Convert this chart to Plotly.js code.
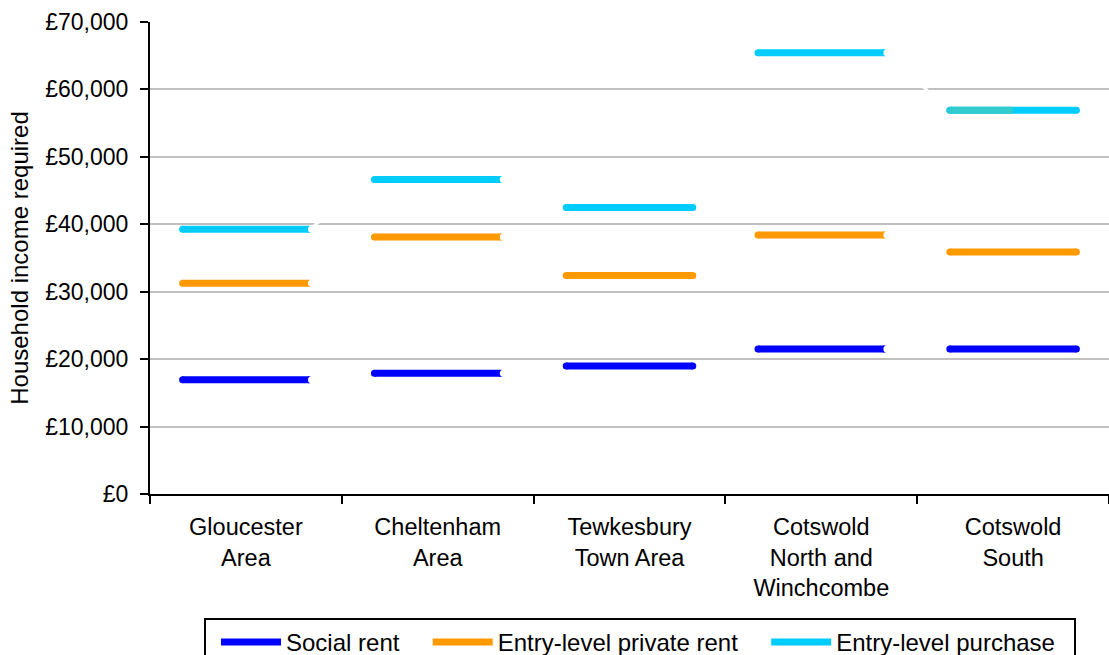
<!DOCTYPE html>
<html>
<head>
<meta charset="utf-8">
<script src="https://cdn.plot.ly/plotly-3.0.1.min.js"></script>
<style>
html,body{margin:0;padding:0;background:#fff;}
#chart{width:1109px;height:655px;}
</style>
</head>
<body>
<div id="chart"></div>
<script>
// ---- data ----
const categories = ['Gloucester<br>Area', 'Cheltenham<br>Area', 'Tewkesbury<br>Town Area', 'Cotswold<br>North and<br>Winchcombe', 'Cotswold<br>South'];
const seriesNames = ['Social rent', 'Entry-level private rent', 'Entry-level purchase'];
const socialRent = [16950, 17900, 19000, 21500, 21500];
const privateRent = [31250, 38100, 32400, 38400, 35900];
const purchase = [39250, 46650, 42500, 65450, 56900];
const purchaseLeftHalfColours = ['#00CCFF', '#00CCFF', '#00CCFF', '#00CCFF', '#33CCCC'];
const whiteEndCaps = [true, true, false, true, false];
const yTickValues = [0, 10000, 20000, 30000, 40000, 50000, 60000, 70000];
const yTickLabels = ['£0', '£10,000', '£20,000', '£30,000', '£40,000', '£50,000', '£60,000', '£70,000'];

// ---- styles ----
const colours = ['#0000FF', '#FF9900', '#00CCFF'];
const H = 0.33;      // half length of each level segment (category units)
const LW = 7;
const FONT = '"Liberation Sans", Arial, sans-serif';
const NB = '\u00A0';

const allSeries = [socialRent, privateRent, purchase];
const traces = [];

// white connectors after segments with a white end cap (drawn under)
allSeries.forEach((vals) => {
  const x = [], y = [];
  for (let i = 0; i < vals.length - 1; i++) {
    if (!whiteEndCaps[i]) continue;
    x.push(i + H, i + 1 - H, null);
    y.push(vals[i], vals[i + 1], null);
  }
  traces.push({type: 'scatter', mode: 'lines', x, y, showlegend: false, hoverinfo: 'skip',
    line: {color: '#FFFFFF', width: 3}});
});

// level segments
const legendPad = [NB + NB, NB + NB, NB + NB];
allSeries.forEach((vals, s) => {
  const x = [], y = [];
  vals.forEach((v, i) => { x.push(i - H, i, i + H, null); y.push(v, v, v, null); });
  traces.push({type: 'scatter', mode: 'lines', x, y, name: seriesNames[s] + legendPad[s],
    line: {color: colours[s], width: LW}});
  // round caps
  const cx = [], cy = [];
  vals.forEach((v, i) => { cx.push(i - H, i + H); cy.push(v, v); });
  traces.push({type: 'scatter', mode: 'markers', x: cx, y: cy, showlegend: false, hoverinfo: 'skip',
    marker: {color: colours[s], size: LW, line: {width: 0}}});
});

// differently coloured left halves of purchase segments
purchase.forEach((v, i) => {
  if (purchaseLeftHalfColours[i] !== colours[2]) {
    traces.push({type: 'scatter', mode: 'lines+markers', x: [i - H, i], y: [v, v], showlegend: false, hoverinfo: 'skip',
      line: {color: purchaseLeftHalfColours[i], width: LW},
      marker: {color: purchaseLeftHalfColours[i], size: [LW, 0], line: {width: 0}}});
  }
});

// white end caps
const wx = [], wy = [];
allSeries.forEach((vals) => vals.forEach((v, i) => { if (whiteEndCaps[i]) { wx.push(i + H + 0.012); wy.push(v); } }));
traces.push({type: 'scatter', mode: 'markers', x: wx, y: wy, showlegend: false, hoverinfo: 'skip',
  marker: {color: '#FFFFFF', size: 7, line: {width: 0}}});

const layout = {
  width: 1109, height: 655,
  margin: {l: 150, r: 0, t: 22, b: 161},
  paper_bgcolor: '#FFFFFF', plot_bgcolor: '#FFFFFF',
  font: {family: FONT, color: '#000000', size: 23},
  showlegend: true,
  xaxis: {
    type: 'linear', range: [-0.5, 4.5], fixedrange: true,
    tickmode: 'array', tickvals: categories.map((c, i) => i), ticktext: categories,
    ticks: '', showgrid: false, zeroline: false,
    showline: true, linecolor: '#000000', linewidth: 2,
    tickfont: {family: FONT, size: 23.5, color: '#000'},
    ticklabelstandoff: 11,
    minor: {tickmode: 'array', tickvals: [-0.5, 0.5, 1.5, 2.5, 3.5, 4.5], ticks: 'outside', ticklen: 8, tickwidth: 2, tickcolor: '#000000', showgrid: false}
  },
  yaxis: {
    range: [0, 70000], fixedrange: true,
    tickmode: 'array', tickvals: yTickValues, ticktext: yTickLabels,
    ticks: 'outside', ticklen: 8, tickwidth: 2, tickcolor: '#000000',
    showgrid: true, gridcolor: '#C0C0C0', gridwidth: 2, zeroline: false,
    showline: true, linecolor: '#000000', linewidth: 2,
    tickfont: {family: FONT, size: 23, color: '#000'},
    ticklabelstandoff: 7,
    automargin: false,
    title: {text: 'Household income required', font: {family: FONT, size: 24, color: '#000'}, standoff: 10}
  },
  legend: {
    orientation: 'h', xref: 'container', yref: 'container',
    x: 640 / 1109, xanchor: 'center', y: 37 / 655, yanchor: 'top',
    bgcolor: '#FFFFFF', bordercolor: '#000000', borderwidth: 2,
    font: {family: FONT, size: 24, color: '#000'},
    itemwidth: 60, traceorder: 'normal', indentation: 10
  }
};

Plotly.newPlot('chart', traces, layout, {displayModeBar: false, staticPlot: true});
</script>
</body>
</html>
